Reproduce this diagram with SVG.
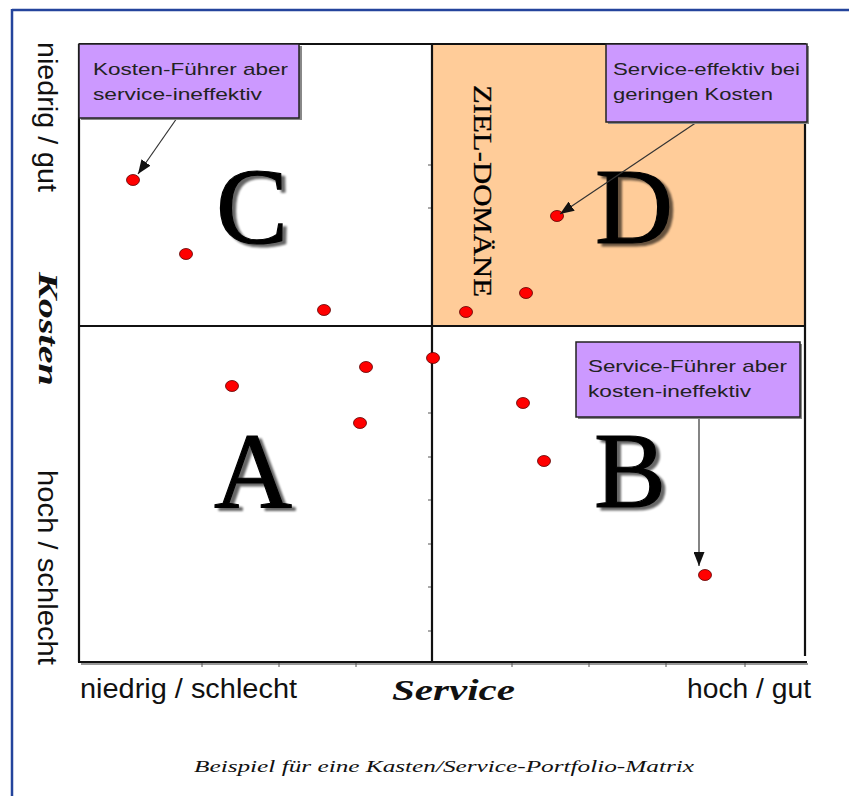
<svg xmlns="http://www.w3.org/2000/svg" width="849" height="796" viewBox="0 0 849 796">
<style>
.ax{stroke:#111;stroke-width:2.2;fill:none}
.axs{stroke:#999;stroke-width:2;fill:none}
.tick{stroke:#555;stroke-width:1}
.box{fill:#cc99ff;stroke:#222;stroke-width:1.5}
.boxs{fill:#888}
.bt{font-family:"Liberation Sans",Arial,sans-serif;font-size:17px;fill:#222}
.lab{font-family:"Liberation Sans",Arial,sans-serif;font-size:27px;fill:#111}
.big{font-family:"Liberation Serif","Times New Roman",serif;font-size:108px;fill:#000;stroke:#000;stroke-width:1.2;filter:url(#shadow)}
.bi{font-family:"Liberation Serif","Times New Roman",serif;font-weight:bold;font-style:italic;fill:#111}
.dot{fill:#ff0000;stroke:#5a0000;stroke-width:0.8}
.conn{stroke:#333;stroke-width:1.2;fill:none;marker-end:url(#ah)}
</style>
<defs>
<marker id="ah" viewBox="0 0 14 11" refX="14" refY="5.5" markerWidth="14" markerHeight="11" markerUnits="userSpaceOnUse" orient="auto">
<path d="M0,0 L14,5.5 L0,11 Z" fill="#111"/>
</marker>
<filter id="shadow" x="-10%" y="-10%" width="130%" height="130%">
<feOffset in="SourceAlpha" dx="4" dy="3" result="o"/>
<feGaussianBlur in="o" stdDeviation="1.3" result="b"/>
<feComponentTransfer in="b" result="g"><feFuncA type="linear" slope="0.6"/></feComponentTransfer>
<feMerge><feMergeNode in="g"/><feMergeNode in="SourceGraphic"/></feMerge>
</filter>
</defs>
<rect x="0" y="0" width="849" height="796" fill="#fff"/>
<g id="border">
<line x1="12" y1="10" x2="849" y2="10" stroke="#24449c" stroke-width="2.5"/>
<line x1="12" y1="9" x2="12" y2="796" stroke="#24449c" stroke-width="2.5"/>
</g>
<g id="zone-d">
<rect x="433" y="45" width="372" height="280" fill="#ffcc99"/>
</g>
<g id="axes">
<line class="axs" x1="81" y1="664" x2="808" y2="664"/>
<line class="ax" x1="79" y1="44" x2="806" y2="44"/>
<line class="ax" x1="805" y1="44" x2="805" y2="656"/>
<line class="ax" x1="79" y1="44" x2="79" y2="662"/>
<line class="ax" x1="78" y1="662" x2="807" y2="662"/>
<line class="ax" x1="79" y1="326" x2="805" y2="326"/>
<line class="ax" x1="432" y1="44" x2="432" y2="662"/>
<g class="tick">
<line x1="202" y1="663" x2="202" y2="667"/><line x1="279" y1="663" x2="279" y2="667"/>
<line x1="356" y1="663" x2="356" y2="667"/><line x1="512" y1="663" x2="512" y2="667"/>
<line x1="589" y1="663" x2="589" y2="667"/><line x1="666" y1="663" x2="666" y2="667"/>
<line x1="745" y1="663" x2="745" y2="667"/>
<line x1="428" y1="165" x2="431" y2="165"/><line x1="428" y1="208" x2="431" y2="208"/>
<line x1="428" y1="413" x2="431" y2="413"/><line x1="428" y1="457" x2="431" y2="457"/>
<line x1="428" y1="500" x2="431" y2="500"/><line x1="428" y1="544" x2="431" y2="544"/>
<line x1="428" y1="587" x2="431" y2="587"/><line x1="428" y1="631" x2="431" y2="631"/>
</g>
</g>
<g id="axis-labels">
<text class="lab" x="80" y="698" textLength="217" lengthAdjust="spacingAndGlyphs">niedrig / schlecht</text>
<text class="lab" x="687" y="698" textLength="124" lengthAdjust="spacingAndGlyphs">hoch / gut</text>
<text class="bi" x="392" y="700" font-size="30" textLength="123" lengthAdjust="spacingAndGlyphs">Service</text>
<text class="lab" transform="translate(38,42) rotate(90)" textLength="150" lengthAdjust="spacingAndGlyphs">niedrig / gut</text>
<text class="bi" font-size="28" transform="translate(39,272) rotate(90)" textLength="114" lengthAdjust="spacingAndGlyphs">Kosten</text>
<text class="lab" transform="translate(38,470) rotate(90)" textLength="195" lengthAdjust="spacingAndGlyphs">hoch / schlecht</text>
</g>
<g id="quadrant-letters">
<text class="big" x="216" y="243">C</text>
<text class="big" x="595" y="243">D</text>
<text class="big" x="214" y="508">A</text>
<text class="big" x="594" y="507">B</text>
</g>
<g id="ziel-domaene">
<text font-family="'Liberation Serif','Times New Roman',serif" font-size="25" fill="#000" stroke="#000" stroke-width="0.3" transform="translate(474,85) rotate(90)" textLength="212" lengthAdjust="spacingAndGlyphs">ZIEL-DOMÄNE</text>
</g>
<g id="dots">
<ellipse class="dot" cx="133" cy="180" rx="6.5" ry="5.5"/>
<ellipse class="dot" cx="186" cy="254" rx="6.5" ry="5.5"/>
<ellipse class="dot" cx="324" cy="310" rx="6.5" ry="5.5"/>
<ellipse class="dot" cx="232" cy="386" rx="6.5" ry="5.5"/>
<ellipse class="dot" cx="366" cy="367" rx="6.5" ry="5.5"/>
<ellipse class="dot" cx="360" cy="423" rx="6.5" ry="5.5"/>
<ellipse class="dot" cx="433" cy="358" rx="6.5" ry="5.5"/>
<ellipse class="dot" cx="466" cy="312" rx="6.5" ry="5.5"/>
<ellipse class="dot" cx="526" cy="293" rx="6.5" ry="5.5"/>
<ellipse class="dot" cx="557" cy="216" rx="6.5" ry="5.5"/>
<ellipse class="dot" cx="523" cy="403" rx="6.5" ry="5.5"/>
<ellipse class="dot" cx="544" cy="461" rx="6.5" ry="5.5"/>
<ellipse class="dot" cx="705" cy="575" rx="6.5" ry="5.5"/>
</g>
<g id="connectors">
<line class="conn" x1="177" y1="118" x2="138" y2="174"/>
<line class="conn" x1="697" y1="122" x2="560" y2="214"/>
<line class="conn" x1="699" y1="417" x2="699" y2="566"/>
</g>
<g id="box-kostenfuehrer">
<rect class="boxs" x="81" y="46" width="221" height="74"/>
<rect class="box" x="79" y="44" width="220" height="74"/>
<text class="bt" x="93" y="75" textLength="195" lengthAdjust="spacingAndGlyphs">Kosten-Führer aber</text>
<text class="bt" x="93" y="100" textLength="169" lengthAdjust="spacingAndGlyphs">service-ineffektiv</text>
</g>
<g id="box-serviceeffektiv">
<rect class="boxs" x="608" y="46" width="201" height="78"/>
<rect class="box" x="606" y="44" width="201" height="78"/>
<text class="bt" x="613" y="75" textLength="187" lengthAdjust="spacingAndGlyphs">Service-effektiv bei</text>
<text class="bt" x="613" y="100" textLength="160" lengthAdjust="spacingAndGlyphs">geringen Kosten</text>
</g>
<g id="box-servicefuehrer">
<rect class="boxs" x="578" y="344" width="224" height="75"/>
<rect class="box" x="576" y="342" width="224" height="75"/>
<text class="bt" x="588" y="372" textLength="199" lengthAdjust="spacingAndGlyphs">Service-Führer aber</text>
<text class="bt" x="588" y="397" textLength="163" lengthAdjust="spacingAndGlyphs">kosten-ineffektiv</text>
</g>
<g id="caption">
<text font-family="'Liberation Serif','Times New Roman',serif" font-style="italic" font-size="16" fill="#111" x="194" y="772" textLength="500" lengthAdjust="spacingAndGlyphs">Beispiel für eine Kasten/Service-Portfolio-Matrix</text>
</g>
</svg>
